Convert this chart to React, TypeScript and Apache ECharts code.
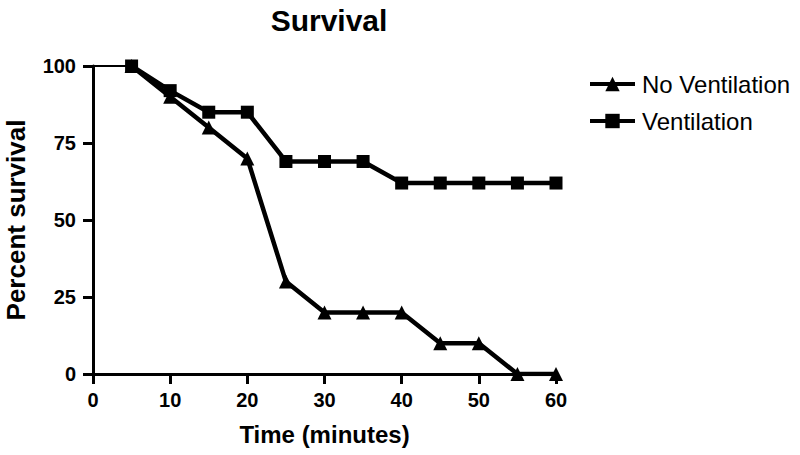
import React, { useEffect, useRef } from "react";
import * as echarts from "echarts";

const TIMES = [5, 10, 15, 20, 25, 30, 35, 40, 45, 50, 55, 60];
const NO_VENT = [100, 90, 80, 70, 30, 20, 20, 20, 10, 10, 0, 0];
const VENT = [100, 92, 85, 85, 69, 69, 69, 62, 62, 62, 62, 62];
const START_X = [0, 5];
const START_Y = [100, 100];
const SERIES_NAMES = ["No Ventilation", "Ventilation"];

const FONT = "'Liberation Sans', Arial, Helvetica, sans-serif";

export default function App() {
  const ref = useRef<HTMLDivElement>(null);
  useEffect(() => {
    if (!ref.current) return;
    const chart = echarts.init(ref.current, null, { renderer: "svg" });
    const pairs = (ys: number[]) => TIMES.map((t, i) => [t, ys[i]]);
    chart.setOption({
      animation: false,
      backgroundColor: "#ffffff",
      title: {
        text: "Survival",
        left: 324,
        top: 0,
        textAlign: "center",
        textStyle: { fontFamily: FONT, fontWeight: "bold", fontSize: 30, color: "#000" },
      },
      legend: {
        orient: "vertical",
        left: 583,
        top: 67,
        itemWidth: 45,
        itemHeight: 18,
        itemGap: 13,
        data: SERIES_NAMES,
        lineStyle: { width: 4 },
        textStyle: { fontFamily: FONT, fontSize: 24, color: "#000", padding: [0, 0, 0, 2] },
      },
      grid: { left: 93, right: 244, top: 66, bottom: 81, containLabel: false, outerBoundsMode: "none" },
      xAxis: {
        type: "value",
        min: 0,
        max: 60,
        interval: 10,
        name: "Time (minutes)",
        nameLocation: "middle",
        nameGap: 48,
        nameTextStyle: { fontFamily: FONT, fontWeight: "bold", fontSize: 24, color: "#000" },
        axisLine: { onZero: false, lineStyle: { color: "#000", width: 3 } },
        axisTick: { length: 10, lineStyle: { color: "#000", width: 3 } },
        axisLabel: { margin: 16, fontFamily: FONT, fontWeight: "bold", fontSize: 20, color: "#000" },
        splitLine: { show: false },
      },
      yAxis: {
        type: "value",
        min: 0,
        max: 100,
        interval: 25,
        name: "Percent survival",
        nameLocation: "middle",
        nameGap: 64,
        nameTextStyle: { fontFamily: FONT, fontWeight: "bold", fontSize: 26, color: "#000" },
        axisLine: { show: true, onZero: false, lineStyle: { color: "#000", width: 3 } },
        axisTick: { show: true, length: 10, lineStyle: { color: "#000", width: 3 } },
        axisLabel: { margin: 17, fontFamily: FONT, fontWeight: "bold", fontSize: 20, color: "#000" },
        splitLine: { show: false },
      },
      series: [
        {
          name: "start",
          type: "line",
          data: START_X.map((x, i) => [x, START_Y[i]]),
          showSymbol: false,
          symbol: "none",
          lineStyle: { color: "#000", width: 2 },
          silent: true,
        },
        {
          name: SERIES_NAMES[0],
          type: "line",
          data: pairs(NO_VENT),
          symbol: "triangle",
          symbolSize: 14,
          itemStyle: { color: "#000" },
          lineStyle: { color: "#000", width: 4.5 },
        },
        {
          name: SERIES_NAMES[1],
          type: "line",
          data: pairs(VENT),
          symbol: "rect",
          symbolSize: 13,
          itemStyle: { color: "#000" },
          lineStyle: { color: "#000", width: 4.5 },
        },
      ],
    });
    return () => chart.dispose();
  }, []);
  return (
    <div
      ref={ref}
      style={{ position: "fixed", left: 0, top: 0, width: 800, height: 455, background: "#fff" }}
    />
  );
}
